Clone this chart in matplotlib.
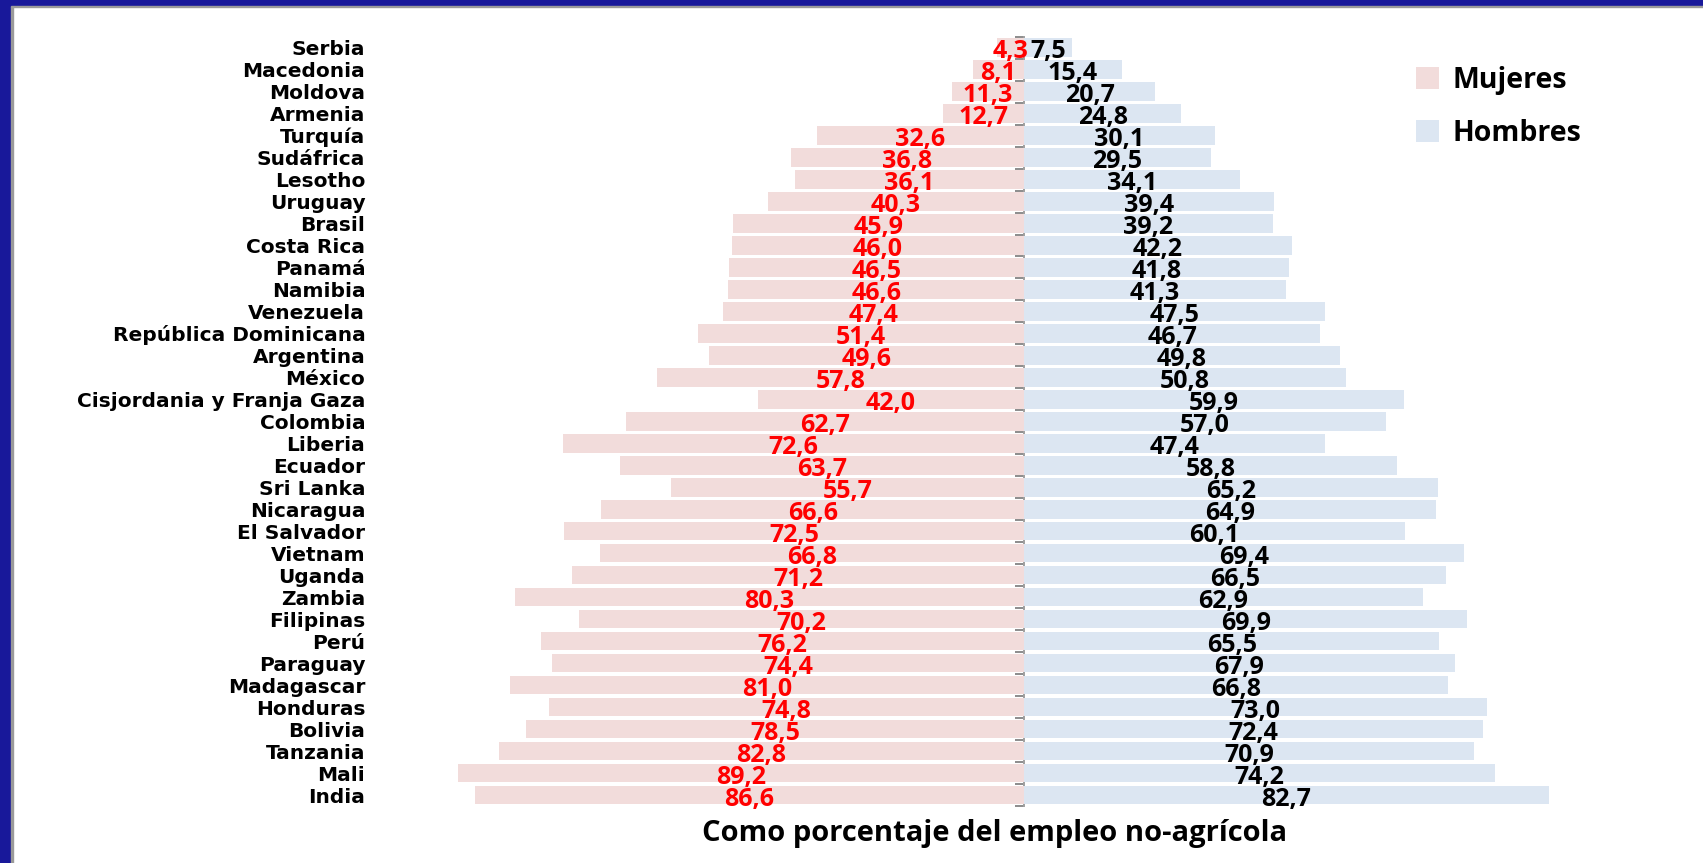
import numpy as np
import matplotlib
matplotlib.use("Agg")
import matplotlib.pyplot as plt
from matplotlib import font_manager as fm
from matplotlib.patches import Rectangle, Patch

countries = ["Serbia", "Macedonia", "Moldova", "Armenia", "Turquía", "Sudáfrica", "Lesotho",
             "Uruguay", "Brasil", "Costa Rica", "Panamá", "Namibia", "Venezuela",
             "República Dominicana", "Argentina", "México", "Cisjordania y Franja Gaza",
             "Colombia", "Liberia", "Ecuador", "Sri Lanka", "Nicaragua", "El Salvador",
             "Vietnam", "Uganda", "Zambia", "Filipinas", "Perú", "Paraguay", "Madagascar",
             "Honduras", "Bolivia", "Tanzania", "Mali", "India"]
mujeres = [4.3, 8.1, 11.3, 12.7, 32.6, 36.8, 36.1, 40.3, 45.9, 46.0, 46.5, 46.6, 47.4,
           51.4, 49.6, 57.8, 42.0, 62.7, 72.6, 63.7, 55.7, 66.6, 72.5, 66.8, 71.2, 80.3,
           70.2, 76.2, 74.4, 81.0, 74.8, 78.5, 82.8, 89.2, 86.6]
hombres = [7.5, 15.4, 20.7, 24.8, 30.1, 29.5, 34.1, 39.4, 39.2, 42.2, 41.8, 41.3, 47.5,
           46.7, 49.8, 50.8, 59.9, 57.0, 47.4, 58.8, 65.2, 64.9, 60.1, 69.4, 66.5, 62.9,
           69.9, 65.5, 67.9, 66.8, 73.0, 72.4, 70.9, 74.2, 82.7]
series_names = ["Mujeres", "Hombres"]
xlabel = "Como porcentaje del empleo no-agrícola"

names = {f.name for f in fm.fontManager.ttflist}
def pick(*cands):
    for c in cands:
        if c in names:
            return c
    return "DejaVu Sans"

label_font = pick("DejaVu Sans")
num_font = pick("Open Sans", "Lato", "Roboto", "DejaVu Sans")

W, H = 1703, 863
fig = plt.figure(figsize=(W / 100, H / 100), dpi=100)
fig.patch.set_facecolor("white")

# frame decoration (blue border top and left)
blue = "#18189A"
fig.patches.append(Rectangle((0, 0), 11 / W, 1, transform=fig.transFigure, color=blue, zorder=10))
fig.patches.append(Rectangle((11 / W, 0), 1.5 / W, 1 - 6 / H, transform=fig.transFigure, color="#9A9A9A", zorder=10))
fig.patches.append(Rectangle((0, 1 - 6 / H), 1, 6 / H, transform=fig.transFigure, color=blue, zorder=10))
fig.patches.append(Rectangle((11 / W, 1 - 7.5 / H), 1, 1.5 / H, transform=fig.transFigure, color="#9A9A9A", zorder=10))

ax = fig.add_axes([375 / W, 1 - 806 / H, (1560 - 375) / W, (806 - 36.7) / H])
n = len(countries)
y = np.arange(n)
wom = np.array(mujeres)
men = np.array(hombres)

ax.barh(y, -wom, height=0.84, color="#F2DCDB", zorder=2)
ax.barh(y, men, height=0.84, color="#DCE6F2", zorder=2)

xmin, xmax = -102.3, 84.5
ax.set_xlim(xmin, xmax)
ax.set_ylim(n - 0.5, -0.5)

ax.set_yticks(y)
ax.set_yticklabels(countries, fontfamily=label_font, fontweight="bold", fontsize=14.5)
ax.tick_params(axis="y", length=0, pad=7)
ax.set_xticks([])
for s in ax.spines.values():
    s.set_visible(False)

for i in range(n):
    ax.annotate(f"{wom[i]:.1f}".replace(".", ","), (-wom[i] / 2, y[i]), xytext=(0, -3),
                textcoords="offset points", ha="center", va="center", color="#FF0000",
                fontfamily=num_font, fontweight="bold", fontsize=18, zorder=3)
    ax.annotate(f"{men[i]:.1f}".replace(".", ","), (men[i] / 2, y[i]), xytext=(0, -3),
                textcoords="offset points", ha="center", va="center", color="black",
                fontfamily=num_font, fontweight="bold", fontsize=18, zorder=3)

# central axis with category boundary ticks
loc = (0 - xmin) / (xmax - xmin)
sec = ax.secondary_yaxis(loc)
sec.set_alignment("left")
sec.set_yticks(np.arange(n + 1) - 0.5)
sec.set_yticklabels([])
sec.tick_params(axis="y", length=6.5, width=1.4, color="#8C8C8C", direction="out")
sec.spines["left"].set_color("#A0A0A0")
sec.spines["left"].set_linewidth(1.4)

ax.set_xlabel(xlabel, fontfamily=num_font, fontweight="bold", fontsize=21, va="center")
ax.xaxis.set_label_coords((995 - 375) / (1560 - 375), -(833 - 806) / (806 - 36.7))

handles = [Patch(facecolor="#F2DCDB", edgecolor="none"), Patch(facecolor="#DCE6F2", edgecolor="none")]
fig.legend(handles, series_names, loc="upper left", bbox_to_anchor=(1416 / W, 1 - 66 / H),
           frameon=False, prop={"family": num_font, "weight": "bold", "size": 20.5},
           handlelength=0.82, handleheight=0.82, handletextpad=0.45, labelspacing=0.85,
           borderpad=0, borderaxespad=0)

fig.savefig("out.png", dpi=100)
